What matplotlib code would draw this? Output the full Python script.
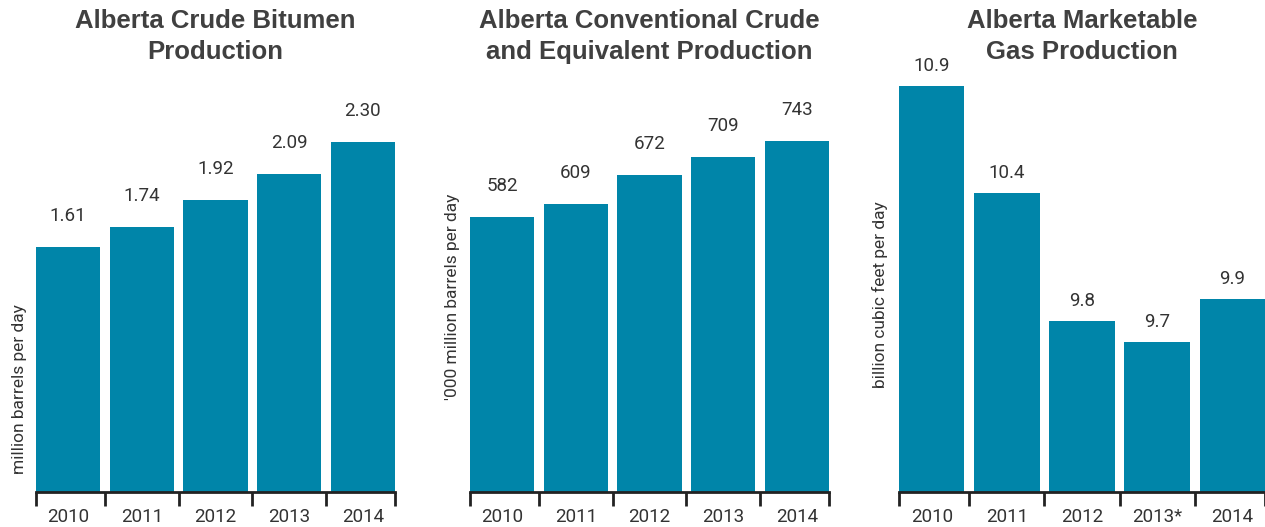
import matplotlib.pyplot as plt

# --- Data --------------------------------------------------------------------
years = ["2010", "2011", "2012", "2013", "2014"]
gas_years = ["2010", "2011", "2012", "2013*", "2014"]

bitumen = [1.61, 1.74, 1.92, 2.09, 2.30]
conventional = [582, 609, 672, 709, 743]
gas = [10.9, 10.4, 9.8, 9.7, 9.9]

bitumen_labels = ["1.61", "1.74", "1.92", "2.09", "2.30"]
conventional_labels = ["582", "609", "672", "709", "743"]
gas_labels = ["10.9", "10.4", "9.8", "9.7", "9.9"]

# --- Style -------------------------------------------------------------------
BAR = "#0085a9"
TEXT = "#333333"
TITLE = "#404040"
NARROW = ["Roboto", "DejaVu Sans"]
BOLD = ["Liberation Sans", "DejaVu Sans"]
W, H = 1265, 527
BASE = 491.5   # baseline, pixels from top
TOP = 80       # top of plotting area, pixels from top
BAR_W = 0.87


def px(x, y):
    # pixel position (from top-left) -> figure fraction
    return x / W, 1 - y / H


fig = plt.figure(figsize=(W / 100, H / 100), dpi=100)


# --- Panel -------------------------------------------------------------------
def panel(left, width, cats, values, labels, title, ylabel, ylim,
          label_off, ylab_x, ylab_y):
    x0, y0 = px(left, BASE)
    ax = fig.add_axes([x0, y0, width / W, (BASE - TOP) / H])
    pos = list(range(len(values)))
    ax.bar(pos, values, width=BAR_W, color=BAR, zorder=2)
    ax.set_ylim(*ylim)
    ax.set_xlim(-BAR_W / 2, len(values) - 1 + BAR_W / 2)

    for s in ["top", "right", "left"]:
        ax.spines[s].set_visible(False)
    ax.spines["bottom"].set_linewidth(2)
    ax.spines["bottom"].set_color("#222222")
    ax.spines["bottom"].set_zorder(3)
    ax.set_yticks([])

    # year labels at bar centres, tick marks at the bar boundaries
    ax.set_xticks(pos)
    ax.set_xticklabels(cats, family=NARROW, fontsize=13.5, color=TEXT)
    ax.tick_params(axis="x", which="major", length=0, pad=12)
    bounds = [-BAR_W / 2] + [p + 0.5 for p in pos[:-1]] + [pos[-1] + BAR_W / 2]
    ax.set_xticks(bounds, minor=True)
    ax.tick_params(axis="x", which="minor", length=10, width=2,
                   color="#222222", direction="out")

    for p, v, t in zip(pos, values, labels):
        ax.annotate(t, (p, v), xytext=(0, label_off * 0.72),
                    textcoords="offset points", ha="center", va="center",
                    family=NARROW, fontsize=13.5, color=TEXT,
                    annotation_clip=False)

    cx = left + width / 2
    fig.text(*px(cx, 9), title, ha="center", va="top", family=BOLD,
             weight="bold", fontsize=18.5, color=TITLE, linespacing=1.38)
    fig.text(*px(ylab_x, ylab_y), ylabel, rotation=90, ha="center",
             va="center", family=NARROW, fontsize=12.5, color=TEXT)


panel(36, 359, years, bitumen, bitumen_labels,
      "Alberta Crude Bitumen\nProduction", "million barrels per day",
      (0, (BASE - TOP) / 151.9), 31, 20, 389)

panel(470, 359, years, conventional, conventional_labels,
      "Alberta Conventional Crude\nand Equivalent Production",
      "'000 million barrels per day",
      (0, (BASE - TOP) / 0.4715), 31, 452, 297)

panel(899, 366, gas_years, gas, gas_labels,
      "Alberta Marketable\nGas Production", "billion cubic feet per day",
      (9.0, 9.0 + (BASE - TOP) / 213.4), 20, 880, 295)

fig.savefig("out.png", dpi=100)
